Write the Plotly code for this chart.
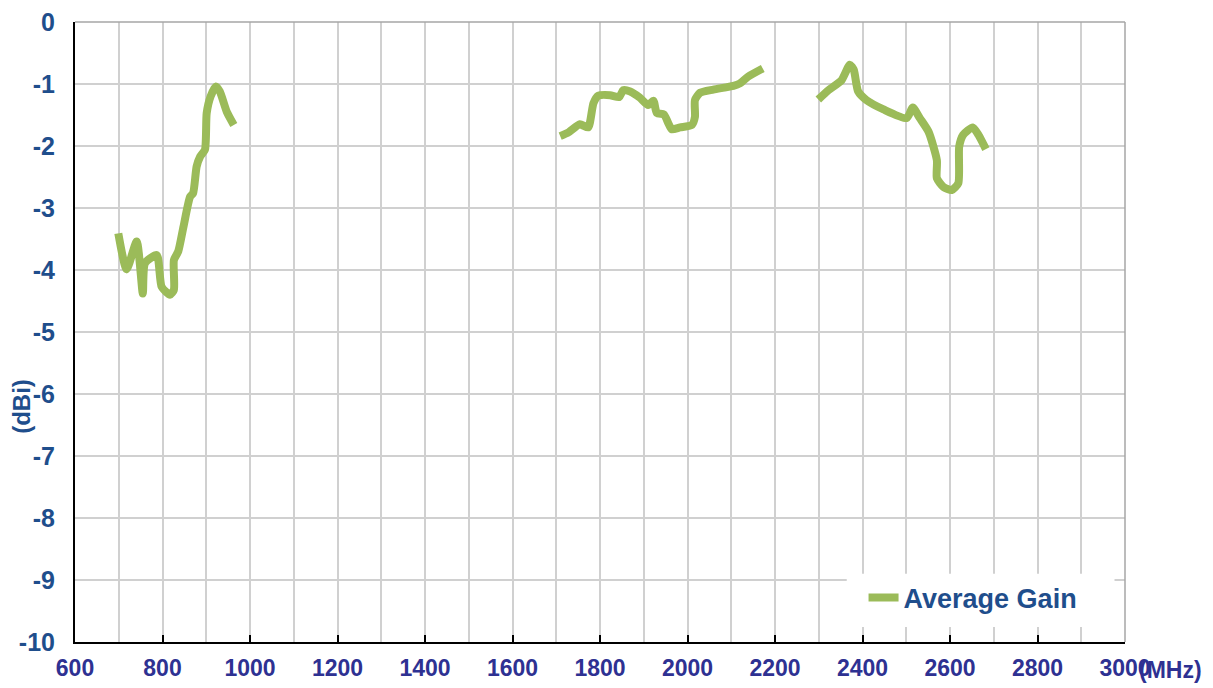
import plotly.graph_objects as go

# Frequency (MHz) and Average Gain (dBi), three bands
band1_freq = [699, 718, 741, 755, 760, 787, 798, 817, 826, 826, 836, 848, 863, 870, 878, 886, 897, 901, 910, 922, 931, 947, 963]
band1_gain = [-3.41, -3.99, -3.54, -4.38, -3.89, -3.76, -4.27, -4.40, -4.32, -3.84, -3.70, -3.30, -2.82, -2.76, -2.33, -2.17, -2.06, -1.47, -1.20, -1.04, -1.12, -1.45, -1.66]

band2_freq = [1709, 1728, 1754, 1773, 1785, 1796, 1823, 1844, 1853, 1869, 1891, 1910, 1922, 1930, 1946, 1956, 1964, 1983, 2010, 2017, 2017, 2029, 2059, 2105, 2120, 2139, 2172]
band2_gain = [-1.84, -1.78, -1.65, -1.70, -1.31, -1.19, -1.18, -1.21, -1.10, -1.12, -1.22, -1.34, -1.27, -1.47, -1.49, -1.63, -1.73, -1.70, -1.66, -1.53, -1.26, -1.14, -1.09, -1.03, -0.99, -0.88, -0.75]

band3_freq = [2299, 2322, 2352, 2371, 2380, 2390, 2409, 2448, 2501, 2515, 2531, 2551, 2570, 2570, 2585, 2604, 2619, 2621, 2630, 2652, 2665, 2682]
band3_gain = [-1.25, -1.10, -0.94, -0.69, -0.77, -1.12, -1.26, -1.41, -1.55, -1.38, -1.55, -1.77, -2.23, -2.52, -2.66, -2.71, -2.60, -2.01, -1.82, -1.70, -1.82, -2.05]

x_ticks = list(range(600, 3001, 200))
y_ticks = list(range(0, -11, -1))

FONT = "Arial, Liberation Sans, sans-serif"
GREEN = "#9BBB59"
YBLUE = "#1F4E8C"
XBLUE = "#2E3192"

fig = go.Figure()
bands = [(band1_freq, band1_gain), (band2_freq, band2_gain), (band3_freq, band3_gain)]
for i, (fx, gy) in enumerate(bands):
    fig.add_trace(go.Scatter(
        x=fx, y=gy, mode="lines", name="Average Gain",
        line=dict(color=GREEN, width=8, shape="spline", smoothing=0.6),
        showlegend=(i == 0), legendgroup="g", hoverinfo="skip",
    ))

# page body has an 8px margin, so the figure is sized to fit the 1213x688 window
fig.update_layout(
    width=1205, height=680,
    margin=dict(l=67, r=88, t=14, b=46, autoexpand=False),
    paper_bgcolor="white", plot_bgcolor="white",
    font=dict(family=FONT),
    showlegend=True,
    legend=dict(
        x=0.751, y=0.071, xanchor="left", yanchor="middle",
        bgcolor="rgba(0,0,0,0)", borderwidth=0,
        font=dict(family=FONT, size=27, color=YBLUE, weight="bold"),
        itemwidth=30,
    ),
    shapes=[
        dict(type="rect", xref="paper", yref="paper", x0=0.735, x1=0.99, y0=0.024, y1=0.11,
             fillcolor="white", line=dict(width=0), layer="above"),
        dict(type="line", xref="paper", yref="paper", x0=0, x1=1, y0=1, y1=1,
             line=dict(color="#A6A6A6", width=1.5), layer="above"),
        dict(type="line", xref="paper", yref="paper", x0=1, x1=1, y0=0, y1=1,
             line=dict(color="#A6A6A6", width=1.5), layer="above"),
    ],
    annotations=[
        dict(text="(dBi)", xref="paper", yref="paper", x=-0.051, y=0.38, textangle=-90,
             showarrow=False, font=dict(family=FONT, size=24, color=YBLUE, weight="bold"),
             xanchor="center", yanchor="middle"),
        dict(text="(MHz)", xref="paper", yref="paper", x=1.011, y=-0.045, showarrow=False,
             xanchor="left", yanchor="middle",
             font=dict(family=FONT, size=23, color=XBLUE, weight="bold")),
    ],
)

fig.update_xaxes(
    range=[600, 3000], tickvals=x_ticks, ticktext=[str(v) for v in x_ticks],
    showgrid=True, gridcolor="#D0D0D0", gridwidth=1.5,
    minor=dict(dtick=100, tick0=600, showgrid=True, gridcolor="#D0D0D0", gridwidth=1.5),
    showline=True, linecolor="black", linewidth=2,
    ticks="inside", ticklen=7, tickcolor="black", tickwidth=1.5,
    tickfont=dict(family=FONT, size=23, color=XBLUE, weight="bold"),
    ticklabelstandoff=4, ticklabeloverflow="allow",
    zeroline=False, fixedrange=True, automargin=False,
)
fig.update_yaxes(
    range=[-10, 0], tickvals=y_ticks, ticktext=[str(v) for v in y_ticks],
    showgrid=True, gridcolor="#D0D0D0", gridwidth=1.5,
    showline=True, linecolor="black", linewidth=2,
    ticks="", tickfont=dict(family=FONT, size=25, color=YBLUE, weight="bold"),
    ticklabelstandoff=13, ticklabeloverflow="allow",
    zeroline=False, fixedrange=True, automargin=False,
)

fig.write_html("out.html")
